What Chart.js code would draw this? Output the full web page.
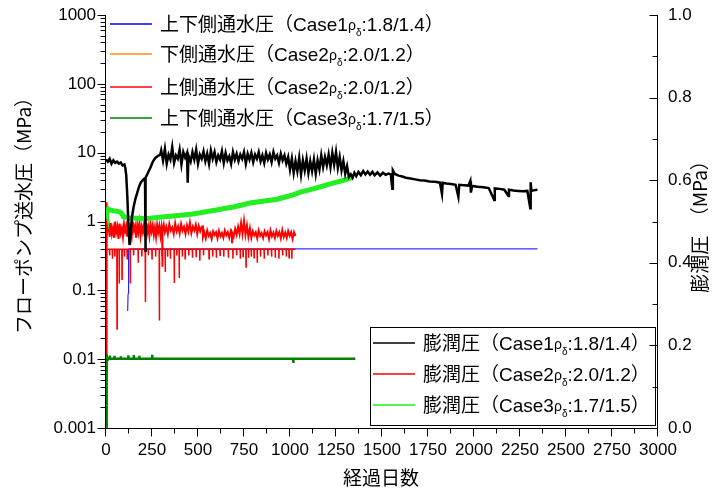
<!DOCTYPE html>
<html>
<head>
<meta charset="utf-8">
<script src="https://cdn.jsdelivr.net/npm/chart.js@4.4.1/dist/chart.umd.min.js"></script>
<style>
  html, body { margin: 0; padding: 0; background: #fff; }
  canvas { display: block; }
</style>
</head>
<body>
<canvas id="myChart" width="713" height="493"></canvas>
<script>
// Tick labels
const xTickLabels = ['0', '250', '500', '750', '1000', '1250', '1500', '1750', '2000', '2250', '2500', '2750', '3000'];
const leftTickLabels = ['0.001', '0.01', '0.1', '1', '10', '100', '1000'];
const rightTickLabels = ['0.0', '0.2', '0.4', '0.6', '0.8', '1.0'];

// Case1 water pressure (upper + lower), MPa
const case1WaterDays = [118, 120, 122, 124, 2345];
const case1WaterVals = [0.05, 0.09, 0.2, 0.4, 0.4];

// Case2 lower side water pressure, MPa
const case2LowerDays = [2, 4, 6, 9];
const case2LowerVals = [0.001, 0.015, 1.7, 0.9];

// Case2 upper side water pressure, MPa
const case2UpperDays = [0, 2, 4, 7, 10, 15, 20, 26, 32, 38, 44, 50, 56, 62, 68, 74, 80, 86, 92, 98,
  104, 110, 116, 122, 128, 134, 140, 146, 152, 158, 164, 170, 176, 182, 188, 194, 200, 206, 212, 218,
  224, 230, 236, 242, 248, 254, 260, 266, 272, 278, 284, 290, 296, 302, 305, 306, 308, 314, 320, 328,
  336, 344, 352, 360, 368, 376, 384, 392, 400, 408, 416, 424, 432, 440, 448, 456, 464, 472, 480, 488,
  496, 504, 512, 520, 526, 527, 534, 542, 550, 558, 566, 574, 582, 590, 598, 606, 614, 622, 630, 638,
  646, 654, 662, 670, 678, 684, 685, 686, 694, 702, 710, 718, 726, 734, 742, 750, 758, 766, 774, 782,
  790, 798, 806, 814, 822, 830, 838, 846, 854, 862, 870, 878, 886, 894, 902, 910, 918, 926, 934, 942,
  950, 958, 966, 974, 982, 990, 998, 1006, 1014, 1022, 1030];
const case2UpperVals = [0.001, 1.9, 0.5, 1.2, 0.7, 0.86, 0.6, 0.95, 0.66, 0.8, 0.58, 1.0, 0.7, 0.84, 0.56, 0.93, 0.68, 0.8, 0.6, 0.92,
  0.72, 0.86, 0.6, 0.97, 0.7, 0.82, 0.62, 1.0, 0.74, 0.86, 0.58, 0.9, 0.7, 0.95, 0.62, 0.84, 0.7, 0.9, 0.6, 0.96,
  0.68, 0.84, 0.62, 0.92, 0.72, 0.88, 0.64, 0.82, 0.6, 0.9, 0.7, 0.86, 0.62, 0.84, 0.7, 0.22, 0.72, 0.9, 0.7, 0.84,
  0.66, 0.92, 0.74, 0.82, 0.66, 0.94, 0.72, 0.85, 0.67, 0.92, 0.74, 0.84, 0.66, 0.88, 0.72, 0.96, 0.68, 0.84, 0.74, 0.9,
  0.66, 0.86, 0.72, 0.84, 0.85, 0.6, 0.7, 0.57, 0.74, 0.62, 0.68, 0.56, 0.72, 0.64, 0.7, 0.57, 0.73, 0.61, 0.68, 0.58,
  0.74, 0.63, 0.7, 0.58, 0.72, 0.64, 0.5, 0.68, 0.6, 0.78, 0.64, 0.84, 0.66, 0.95, 0.66, 1.02, 0.64, 0.88, 0.6, 0.8,
  0.58, 0.72, 0.63, 0.7, 0.57, 0.74, 0.62, 0.68, 0.58, 0.72, 0.63, 0.7, 0.56, 0.74, 0.61, 0.69, 0.58, 0.73, 0.62, 0.7,
  0.57, 0.75, 0.6, 0.69, 0.58, 0.73, 0.62, 0.7, 0.56, 0.7, 0.62];

// Case3 water pressure (upper + lower), MPa
const case3WaterDays = [0, 2, 4, 6, 8, 20, 21, 22, 45, 46, 47, 80, 81, 82, 120, 121, 122, 150, 151, 152,
  180, 181, 182, 250, 251, 252, 400, 700, 1017, 1018, 1019, 1355];
const case3WaterVals = [0.001, 0.0102, 0.0118, 0.0102, 0.0101, 0.0101, 0.0113, 0.0101, 0.0101, 0.0112, 0.0101, 0.0101, 0.0110, 0.0101, 0.0101, 0.0114, 0.0101, 0.0101, 0.0115, 0.0101,
  0.0101, 0.0112, 0.0101, 0.0101, 0.0116, 0.0101, 0.0101, 0.0101, 0.0101, 0.0088, 0.0101, 0.0101];

// Case1 swelling pressure, MPa
const case1SwellDays = [0, 10, 20, 30, 40, 50, 60, 70, 80, 90, 100, 105, 110, 116, 122, 128, 134, 141, 150, 160,
  170, 180, 190, 200, 212, 214, 216, 225, 241, 255, 268, 280, 295, 300, 310, 320, 330, 340, 350, 360,
  370, 380, 390, 400, 410, 420, 430, 440, 444, 448, 460, 470, 480, 490, 500, 510, 520, 530, 540, 550,
  560, 570, 580, 590, 600, 610, 620, 630, 640, 650, 660, 670, 680, 690, 700, 710, 720, 730, 740, 750,
  760, 770, 780, 790, 800, 810, 820, 830, 840, 850, 860, 870, 880, 890, 900, 910, 920, 930, 940, 950,
  960, 970, 980, 990, 1000, 1010, 1020, 1030, 1040, 1050, 1060, 1070, 1080, 1090, 1100, 1110, 1120, 1130, 1140, 1150,
  1160, 1170, 1180, 1190, 1200, 1210, 1220, 1230, 1240, 1250, 1260, 1270, 1280, 1290, 1300, 1310, 1320, 1330, 1340, 1350,
  1360, 1372, 1385, 1398, 1410, 1422, 1435, 1448, 1460, 1475, 1490, 1505, 1520, 1535, 1548, 1556, 1559, 1570, 1590, 1610,
  1630, 1655, 1680, 1705, 1730, 1760, 1790, 1815, 1826, 1830, 1850, 1875, 1900, 1915, 1920, 1945, 1970, 1980, 1983, 1990,
  2020, 2050, 2080, 2110, 2113, 2140, 2165, 2187, 2190, 2215, 2240, 2265, 2290, 2306, 2308, 2312, 2330, 2345];
const case1SwellVals = [0.650, 0.645, 0.652, 0.640, 0.648, 0.642, 0.645, 0.640, 0.643, 0.636, 0.638, 0.630, 0.612, 0.560, 0.490, 0.443, 0.470, 0.511, 0.535, 0.555,
  0.570, 0.585, 0.595, 0.600, 0.605, 0.426, 0.606, 0.615, 0.630, 0.645, 0.654, 0.658, 0.662, 0.672, 0.648, 0.676, 0.640, 0.662, 0.650, 0.680,
  0.642, 0.660, 0.652, 0.674, 0.638, 0.668, 0.655, 0.666, 0.594, 0.660, 0.645, 0.668, 0.650, 0.674, 0.640, 0.662, 0.652, 0.670, 0.646, 0.664,
  0.640, 0.672, 0.652, 0.668, 0.644, 0.660, 0.650, 0.670, 0.642, 0.666, 0.648, 0.658, 0.640, 0.668, 0.650, 0.664, 0.646, 0.662, 0.652, 0.668,
  0.640, 0.664, 0.650, 0.666, 0.644, 0.662, 0.652, 0.668, 0.646, 0.660, 0.642, 0.666, 0.650, 0.662, 0.644, 0.668, 0.652, 0.660, 0.642, 0.664,
  0.648, 0.660, 0.640, 0.656, 0.626, 0.652, 0.618, 0.646, 0.622, 0.654, 0.614, 0.648, 0.624, 0.652, 0.618, 0.646, 0.622, 0.650, 0.616, 0.648,
  0.626, 0.660, 0.632, 0.656, 0.636, 0.662, 0.632, 0.666, 0.638, 0.668, 0.630, 0.656, 0.624, 0.646, 0.616, 0.634, 0.608, 0.614, 0.606, 0.618,
  0.610, 0.620, 0.612, 0.622, 0.614, 0.621, 0.613, 0.620, 0.612, 0.619, 0.611, 0.618, 0.613, 0.616, 0.614, 0.579, 0.624, 0.615, 0.611, 0.609,
  0.606, 0.604, 0.602, 0.600, 0.599, 0.597, 0.596, 0.594, 0.567, 0.594, 0.592, 0.591, 0.589, 0.560, 0.589, 0.588, 0.587, 0.598, 0.570, 0.586,
  0.584, 0.583, 0.581, 0.552, 0.580, 0.579, 0.577, 0.562, 0.577, 0.575, 0.574, 0.573, 0.574, 0.532, 0.595, 0.574, 0.576, 0.577];

// Case2 swelling pressure, MPa (flat line with short drops)
const case2SwellDays = [8, 10, 19, 20, 21, 34, 35, 36, 47, 48, 49, 59, 60, 61, 71, 72, 73, 86, 87, 88,
  99, 100, 101, 114, 115, 116, 131, 132, 133, 149, 150, 151, 174, 175, 176, 194, 195, 196, 213, 214,
  215, 229, 230, 231, 249, 250, 251, 269, 270, 271, 289, 290, 291, 304, 305, 306, 321, 322, 323, 334,
  335, 336, 349, 350, 351, 370, 371, 372, 384, 385, 386, 397, 398, 399, 414, 415, 416, 429, 430, 431,
  449, 450, 451, 469, 470, 471, 489, 490, 491, 509, 510, 511, 529, 530, 531, 559, 560, 561, 579, 580,
  581, 599, 600, 601, 619, 620, 621, 639, 640, 641, 664, 665, 666, 689, 690, 691, 709, 710, 711, 729,
  730, 731, 744, 745, 746, 760, 761, 762, 774, 775, 776, 789, 790, 791, 804, 805, 806, 821, 822, 823,
  839, 840, 841, 859, 860, 861, 879, 880, 881, 899, 900, 901, 919, 920, 921, 939, 940, 941, 959, 960,
  961, 979, 980, 981, 994, 995, 996, 1009, 1010, 1011, 1030];
const case2SwellVals = [0.433, 0.433, 0.433, 0.418, 0.433, 0.433, 0.410, 0.433, 0.433, 0.415, 0.433, 0.433, 0.240, 0.433, 0.433, 0.350, 0.433, 0.433, 0.360, 0.433,
  0.433, 0.415, 0.433, 0.433, 0.410, 0.433, 0.433, 0.350, 0.433, 0.433, 0.418, 0.433, 0.433, 0.400, 0.433, 0.433, 0.415, 0.433, 0.433, 0.305,
  0.433, 0.433, 0.418, 0.433, 0.433, 0.410, 0.433, 0.433, 0.415, 0.433, 0.433, 0.260, 0.433, 0.433, 0.418, 0.433, 0.433, 0.378, 0.433, 0.433,
  0.415, 0.433, 0.433, 0.410, 0.433, 0.433, 0.351, 0.433, 0.433, 0.418, 0.433, 0.433, 0.363, 0.433, 0.433, 0.415, 0.433, 0.433, 0.410, 0.433,
  0.433, 0.418, 0.433, 0.433, 0.412, 0.433, 0.433, 0.415, 0.433, 0.433, 0.405, 0.433, 0.433, 0.418, 0.433, 0.433, 0.410, 0.433, 0.433, 0.415,
  0.433, 0.433, 0.412, 0.433, 0.433, 0.418, 0.433, 0.433, 0.415, 0.433, 0.433, 0.412, 0.433, 0.433, 0.410, 0.433, 0.433, 0.418, 0.433, 0.433,
  0.410, 0.433, 0.433, 0.415, 0.433, 0.433, 0.390, 0.433, 0.433, 0.412, 0.433, 0.433, 0.415, 0.433, 0.433, 0.412, 0.433, 0.433, 0.400, 0.433,
  0.433, 0.415, 0.433, 0.433, 0.410, 0.433, 0.433, 0.418, 0.433, 0.433, 0.415, 0.433, 0.433, 0.412, 0.433, 0.433, 0.410, 0.433, 0.433, 0.418,
  0.433, 0.433, 0.415, 0.433, 0.433, 0.412, 0.433, 0.433, 0.410, 0.433, 0.433];

// Case3 swelling pressure, MPa
const case3SwellDays = [1, 3, 20, 40, 60, 80, 90, 94, 120, 160, 200, 241, 280, 333, 380, 420, 470, 512, 560, 600,
  650, 692, 740, 784, 830, 880, 930, 980, 1020, 1056, 1100, 1140, 1180, 1219, 1260, 1300, 1328, 1340];
const case3SwellVals = [0.536, 0.532, 0.528, 0.526, 0.525, 0.522, 0.516, 0.512, 0.509, 0.508, 0.507, 0.508, 0.510, 0.512, 0.514, 0.516, 0.518, 0.521, 0.525, 0.528,
  0.532, 0.535, 0.540, 0.545, 0.548, 0.551, 0.554, 0.560, 0.565, 0.571, 0.576, 0.581, 0.586, 0.591, 0.596, 0.601, 0.605, 0.610];

const pts = (days, vals) => days.map((d, i) => ({ x: d, y: vals[i] }));

const JP = '"Noto Sans CJK JP", "Noto Sans", sans-serif';
const LABEL = '"Liberation Sans", "Noto Sans CJK JP", sans-serif';
const NUM = '"Liberation Sans", Arial, sans-serif';

function line(label, days, vals, axis, color, width, order) {
  return {
    label: label,
    data: pts(days, vals),
    yAxisID: axis,
    borderColor: color,
    backgroundColor: color,
    borderWidth: width,
    pointRadius: 0,
    tension: 0,
    fill: false,
    order: order
  };
}

// label text with a small ρ and subscript δ
function drawRichLabel(ctx, text, x, y) {
  const parts = text.split('ρδ');
  ctx.fillStyle = '#000';
  ctx.textAlign = 'left';
  ctx.textBaseline = 'alphabetic';
  ctx.font = '19px ' + LABEL;
  ctx.fillText(parts[0], x, y);
  x += ctx.measureText(parts[0]).width;
  ctx.font = '14px ' + NUM;
  ctx.fillText('ρ', x, y - 1);
  x += ctx.measureText('ρ').width;
  ctx.font = '10px ' + NUM;
  ctx.fillText('δ', x, y + 5);
  x += ctx.measureText('δ').width;
  ctx.font = '19px ' + LABEL;
  ctx.fillText(parts[1], x, y);
}

const decorations = {
  id: 'decorations',
  afterDraw(chart) {
    const ctx = chart.ctx;
    const area = chart.chartArea;
    const sx = chart.scales.x, sy = chart.scales.y, sy2 = chart.scales.y2;
    ctx.save();
    ctx.strokeStyle = '#000';
    ctx.lineWidth = 1;

    // axis lines
    const L = Math.round(area.left) - 0.5, R = Math.round(area.right) - 0.5, B = Math.round(area.bottom) + 0.5;
    ctx.beginPath();
    ctx.moveTo(L, area.top); ctx.lineTo(L, B);
    ctx.lineTo(R, B);
    ctx.moveTo(R, area.top); ctx.lineTo(R, B);
    ctx.stroke();

    // tick marks
    ctx.beginPath();
    sy.ticks.forEach(t => {
      const p = Math.round(sy.getPixelForValue(t.value)) + 0.5;
      const major = t.label !== '';
      ctx.moveTo(L, p); ctx.lineTo(L - (major ? 8 : 5), p);
    });
    sx.ticks.forEach(t => {
      const p = Math.round(sx.getPixelForValue(t.value)) - 0.5;
      const major = t.label !== '';
      ctx.moveTo(p, B); ctx.lineTo(p, B + (major ? 8 : 5));
    });
    sy2.ticks.forEach(t => {
      const p = Math.round(sy2.getPixelForValue(t.value)) + 0.5;
      const major = t.label !== '';
      ctx.moveTo(R, p); ctx.lineTo(R - (major ? 8 : 5), p);
    });
    ctx.stroke();

    // axis titles
    ctx.fillStyle = '#000';
    ctx.textAlign = 'center';
    ctx.textBaseline = 'middle';
    ctx.font = '19px ' + JP;
    ctx.save();
    ctx.translate(24, 211);
    ctx.rotate(-Math.PI / 2);
    ctx.fillText('フローポンプ送水圧（MPa）', 0, 0);
    ctx.restore();
    ctx.save();
    ctx.translate(700, 222);
    ctx.rotate(-Math.PI / 2);
    ctx.fillText('膨潤圧　（MPa）', 0, 0);
    ctx.restore();
    ctx.fillText('経過日数', 381, 478);

    // legends
    const sets = chart.data.datasets;
    const leftSets = sets.filter(d => d.yAxisID === 'y');
    const rightSets = sets.filter(d => d.yAxisID === 'y2');
    const topRows = [24, 54, 87, 118];
    leftSets.forEach((d, i) => {
      const y = topRows[i];
      ctx.strokeStyle = d.borderColor;
      ctx.lineWidth = 1.5;
      ctx.beginPath();
      ctx.moveTo(110, y); ctx.lineTo(152, y);
      ctx.stroke();
      drawRichLabel(ctx, d.label, 160, y + 7);
    });

    ctx.strokeStyle = '#000';
    ctx.lineWidth = 1;
    ctx.strokeRect(370.5, 327.5, 285, 98);
    const boxRows = [343, 374, 405];
    rightSets.forEach((d, i) => {
      const y = boxRows[i];
      ctx.strokeStyle = d.borderColor;
      ctx.lineWidth = 1.5;
      ctx.beginPath();
      ctx.moveTo(373, y); ctx.lineTo(415, y);
      ctx.stroke();
      drawRichLabel(ctx, d.label, 423, y + 7);
    });
    ctx.restore();
  }
};

const ctx = document.getElementById('myChart');

const myChart = new Chart(ctx, {
  type: 'line',
  data: {
    datasets: [
      line('上下側通水圧（Case1ρδ:1.8/1.4）', case1WaterDays, case1WaterVals, 'y', '#0000ff', 1, 4),
      line('下側通水圧（Case2ρδ:2.0/1.2）', case2LowerDays, case2LowerVals, 'y', '#ff8c1a', 1, 6),
      line('上側通水圧（Case2ρδ:2.0/1.2）', case2UpperDays, case2UpperVals, 'y', '#ff0000', 2, 5),
      line('上下側通水圧（Case3ρδ:1.7/1.5）', case3WaterDays, case3WaterVals, 'y', '#008000', 2.5, 0),
      line('膨潤圧（Case1ρδ:1.8/1.4）', case1SwellDays, case1SwellVals, 'y2', '#000000', 2.5, 1),
      line('膨潤圧（Case2ρδ:2.0/1.2）', case2SwellDays, case2SwellVals, 'y2', '#ff0000', 1.5, 3),
      line('膨潤圧（Case3ρδ:1.7/1.5）', case3SwellDays, case3SwellVals, 'y2', '#22ee22', 5, 2)
    ]
  },
  options: {
    responsive: false,
    animation: false,
    devicePixelRatio: 1,
    layout: { padding: { top: 15, left: 0, right: 0, bottom: 0 } },
    plugins: {
      legend: { display: false },
      tooltip: { enabled: false }
    },
    scales: {
      x: {
        type: 'linear',
        min: 0,
        max: 3000,
        grid: { display: false, drawTicks: false },
        border: { display: false },
        afterBuildTicks(scale) {
          const ticks = [];
          for (let v = 0; v <= 3000; v += 125) ticks.push({ value: v });
          scale.ticks = ticks;
        },
        ticks: {
          autoSkip: false,
          maxRotation: 0,
          padding: 12,
          color: '#000',
          font: { family: NUM, size: 17 },
          callback: v => (v % 250 === 0 ? xTickLabels[v / 250] : '')
        },
        afterFit(scale) {
          scale.height = 65;
          scale.paddingLeft = 0;
          scale.paddingRight = 0;
        }
      },
      y: {
        type: 'logarithmic',
        position: 'left',
        min: 0.001,
        max: 1000,
        grid: { display: false, drawTicks: false },
        border: { display: false },
        afterBuildTicks(scale) {
          const ticks = [];
          leftTickLabels.forEach((lab, i) => {
            const base = Number(lab);
            if (i === leftTickLabels.length - 1) { ticks.push({ value: base }); return; }
            for (let m = 1; m <= 9; m++) ticks.push({ value: base * m });
          });
          scale.ticks = ticks;
        },
        ticks: {
          autoSkip: false,
          padding: 10,
          color: '#000',
          font: { family: NUM, size: 17 },
          callback: v => {
            const e = Math.log10(v);
            return Math.abs(e - Math.round(e)) < 1e-6 ? leftTickLabels[Math.round(e) + 3] : '';
          }
        },
        afterFit(scale) {
          scale.width = 106;
          scale.paddingTop = 0;
          scale.paddingBottom = 0;
        }
      },
      y2: {
        type: 'linear',
        position: 'right',
        min: 0,
        max: 1,
        grid: { display: false, drawTicks: false },
        border: { display: false },
        afterBuildTicks(scale) {
          const ticks = [];
          for (let k = 0; k <= 10; k++) ticks.push({ value: k / 10 });
          scale.ticks = ticks;
        },
        ticks: {
          autoSkip: false,
          padding: 10,
          color: '#000',
          font: { family: NUM, size: 17 },
          callback: v => {
            const k = Math.round(v * 10);
            return k % 2 === 0 ? rightTickLabels[k / 2] : '';
          }
        },
        afterFit(scale) {
          scale.width = 55;
          scale.paddingTop = 0;
          scale.paddingBottom = 0;
        }
      }
    }
  },
  plugins: [decorations]
});
</script>
</body>
</html>
